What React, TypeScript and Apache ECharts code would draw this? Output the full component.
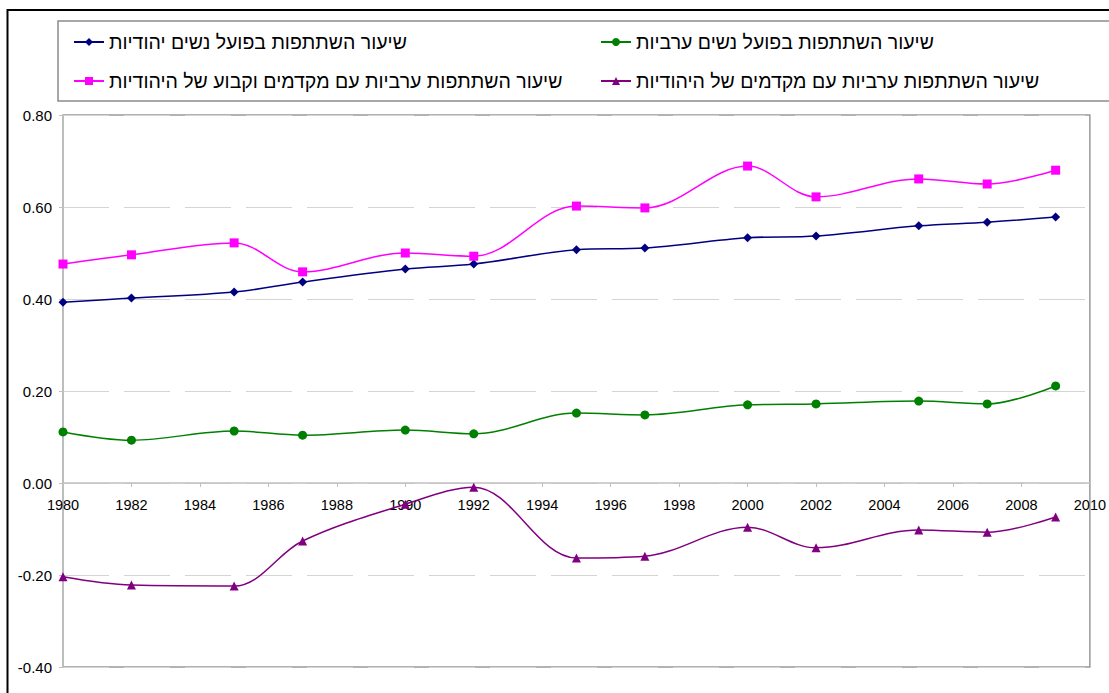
import React, { useEffect, useRef } from "react";
import * as echarts from "echarts";

const years = [1980, 1982, 1985, 1987, 1990, 1992, 1995, 1997, 2000, 2002, 2005, 2007, 2009];
const jewishWomen = [0.393, 0.402, 0.415, 0.437, 0.465, 0.476, 0.507, 0.511, 0.533, 0.537, 0.559, 0.567, 0.578];
const arabWomen = [0.111, 0.093, 0.113, 0.104, 0.115, 0.107, 0.152, 0.148, 0.170, 0.172, 0.178, 0.172, 0.211];
const arabCoefConst = [0.476, 0.496, 0.522, 0.459, 0.500, 0.493, 0.602, 0.598, 0.689, 0.622, 0.661, 0.650, 0.680];
const arabCoef = [-0.204, -0.222, -0.224, -0.126, -0.046, -0.009, -0.163, -0.159, -0.096, -0.141, -0.102, -0.107, -0.074];

const names = [
  "שיעור השתתפות בפועל נשים יהודיות",
  "שיעור השתתפות בפועל נשים ערביות",
  "שיעור השתתפות ערביות עם מקדמים וקבוע של היהודיות",
  "שיעור השתתפות ערביות עם מקדמים של היהודיות",
];
const colors = ["#000080", "#008000", "#FF00FF", "#800080"];
const symbols = ["diamond", "circle", "rect", "triangle"];
const symbolSizes = [9, 9, 9, 9];
const seriesValues = [jewishWomen, arabWomen, arabCoefConst, arabCoef];

const FONT = "'Liberation Sans', Arial, sans-serif";

export default function App() {
  const ref = useRef<HTMLDivElement>(null);
  useEffect(() => {
    document.body.style.margin = "0";
    if (!ref.current) return;
    const chart = echarts.init(ref.current, undefined, { renderer: "svg" });
    const legendPos = [
      { left: 73, top: 32 },
      { left: 600, top: 32 },
      { left: 73, top: 71 },
      { left: 600, top: 71 },
    ];
    chart.setOption({
      animation: false,
      backgroundColor: "#ffffff",
      textStyle: { fontFamily: FONT },
      graphic: [
        {
          type: "rect",
          shape: { x: 7.5, y: 10, width: 1300, height: 1000 },
          style: { fill: "none", stroke: "#000000", lineWidth: 2 },
          silent: true,
        },
        {
          type: "rect",
          shape: { x: 58, y: 21, width: 1300, height: 80 },
          style: { fill: "none", stroke: "#8c8c8c", lineWidth: 1.5 },
          silent: true,
        },
      ],
      legend: names.map((n, i) => ({
        data: [n],
        left: legendPos[i].left,
        top: legendPos[i].top,
        align: "left",
        itemWidth: 30,
        itemHeight: 10,
        itemGap: 5,
        padding: 0,
        selectedMode: false,
        textStyle: { fontSize: 19.5, color: "#000", fontFamily: FONT },
      })),
      grid: {
        left: 63,
        right: 14,
        top: 115,
        bottom: 26,
        show: true,
        borderColor: "#999999",
        borderWidth: 1.5,
      },
      xAxis: {
        type: "value",
        min: 1980,
        max: 2010,
        interval: 2,
        position: "bottom",
        offset: -184,
        axisLine: { onZero: false, lineStyle: { color: "#c0c0c0", width: 1.5 } },
        axisTick: { show: true, length: 4, inside: false, lineStyle: { color: "#c0c0c0" } },
        axisLabel: {
          color: "#000",
          fontSize: 14.5,
          margin: 14,
          fontFamily: FONT,
          showMaxLabel: true,
          showMinLabel: true,
          formatter: (v: number) => String(v),
        },
        splitLine: { show: false },
      },
      yAxis: {
        type: "value",
        min: -0.4,
        max: 0.8,
        interval: 0.2,
        axisLine: { show: true, lineStyle: { color: "#c0c0c0", width: 1.5 } },
        axisTick: { show: true, length: 4, lineStyle: { color: "#c0c0c0" } },
        axisLabel: {
          color: "#000",
          fontSize: 15,
          margin: 11,
          fontFamily: FONT,
          formatter: (v: number) => v.toFixed(2),
        },
        splitLine: {
          show: true,
          lineStyle: { color: "#d4d4d4", width: 1.2, type: [46, 15] },
        },
      },
      series: seriesValues.map((vals, i) => ({
        name: names[i],
        type: "line",
        smooth: 0.35,
        data: years.map((y, j) => [y, vals[j]]),
        symbol: symbols[i],
        symbolSize: symbolSizes[i],
        showSymbol: true,
        itemStyle: { color: colors[i] },
        lineStyle: { color: colors[i], width: 1.5 },
        z: 3,
      })),
    });
    return () => chart.dispose();
  }, []);
  return <div ref={ref} style={{ width: 1109, height: 693 }} />;
}
